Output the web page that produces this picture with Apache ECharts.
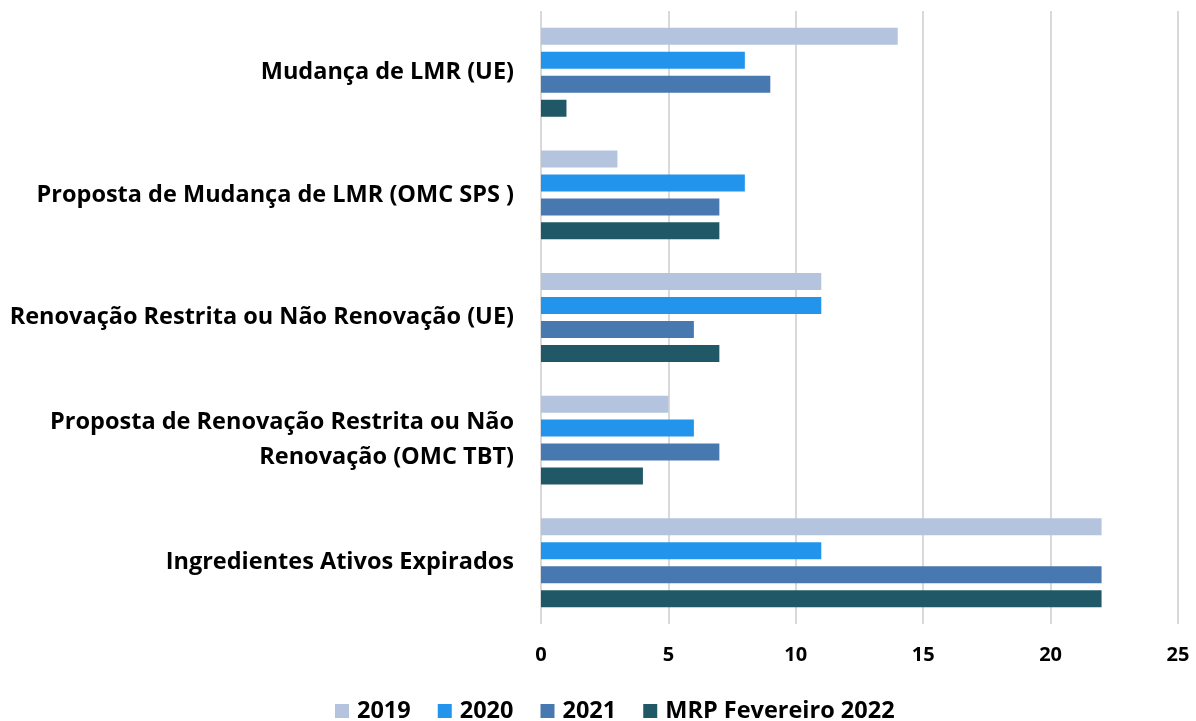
<!DOCTYPE html>
<html>
<head>
<meta charset="utf-8">
<script src="https://cdn.jsdelivr.net/npm/echarts@6/dist/echarts.min.js"></script>
<style>
  html, body { margin: 0; padding: 0; background: #fff; }
  #chart { width: 1196px; height: 721px; }
</style>
</head>
<body>
<div id="chart"></div>
<script>
// categorias (de cima para baixo)
const categories = [
  'Mudança de LMR (UE)',
  'Proposta de Mudança de LMR (OMC SPS )',
  'Renovação Restrita ou Não Renovação (UE)',
  'Proposta de Renovação Restrita ou Não\nRenovação (OMC TBT)',
  'Ingredientes Ativos Expirados'
]
const seriesNames = ['2019', '2020', '2021', 'MRP Fevereiro 2022']
const values2019 = [14, 3, 11, 5, 22]
const values2020 = [8, 8, 11, 6, 11]
const values2021 = [9, 7, 6, 7, 22]
const valuesMrp = [1, 7, 7, 4, 22]
const xTicks = [0, 5, 10, 15, 20, 25]

const colors = ['#b4c4df', '#2394ec', '#4878b0', '#215868']
const allValues = [values2019, values2020, values2021, valuesMrp]
const font = '"Open Sans", sans-serif'

const chart = echarts.init(document.getElementById('chart'))
chart.setOption({
  animation: false,
  textStyle: { fontFamily: font },
  grid: { left: 541, right: 18, top: 11, bottom: 97, containLabel: false },
  legend: {
    bottom: -7,
    left: 330,
    itemWidth: 14,
    itemHeight: 14,
    itemGap: 27,
    icon: 'rect',
    textStyle: {
      fontSize: 23.5,
      fontWeight: 'bold',
      color: '#000',
      fontFamily: font,
      padding: [0, 0, 0, 3]
    },
    data: seriesNames
  },
  xAxis: {
    type: 'value',
    min: xTicks[0],
    max: xTicks[xTicks.length - 1],
    interval: 5,
    axisLine: { show: false },
    axisTick: { show: false },
    splitLine: { lineStyle: { color: '#d9d9d9', width: 2 } },
    axisLabel: { fontSize: 20, fontWeight: 'bold', color: '#000', margin: 21, fontFamily: font }
  },
  yAxis: {
    type: 'category',
    inverse: true,
    data: categories,
    axisLine: { show: false },
    axisTick: { show: false },
    axisLabel: {
      fontSize: 23.5,
      fontWeight: 'bold',
      color: '#000',
      margin: 27,
      lineHeight: 35,
      align: 'right',
      fontFamily: font
    }
  },
  series: seriesNames.map((name, i) => ({
    name: name,
    type: 'bar',
    data: allValues[i],
    barWidth: 17,
    barGap: '41%',
    itemStyle: { color: colors[i] }
  }))
})
</script>
</body>
</html>
